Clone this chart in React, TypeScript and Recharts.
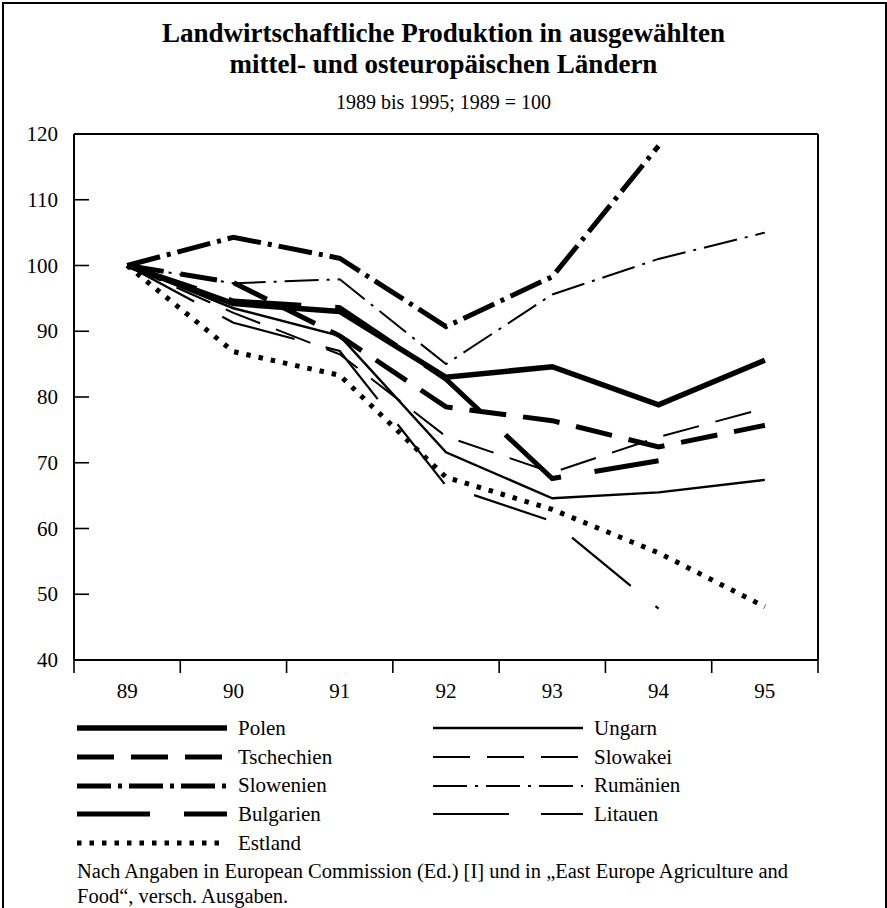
import React from "react";
import { LineChart, Line, XAxis, YAxis, ReferenceLine } from "recharts";

const YEARS = [89, 90, 91, 92, 93, 94, 95];
const POLEN = [100, 94.2, 93.0, 83.0, 84.6, 78.8, 85.6];
const UNGARN = [100, 93.5, 89.3, 71.6, 64.6, 65.5, 67.4];
const TSCHECHIEN = [100, 97.4, 89.3, 78.5, 76.4, 72.4, 75.7];
const SLOWAKEI = [100, 92.8, 86.5, 74.0, 68.5, 73.9, 78.3];
const SLOWENIEN = [100, 104.3, 101.1, 90.7, 98.3, 118.2, null];
const RUMAENIEN = [100, 97.3, 97.9, 85.0, 95.6, 101.0, 105.0];
const BULGARIEN = [100, 94.6, 93.6, 82.7, 67.6, 70.3, null];
const LITAUEN = [100, 91.3, 87.0, 66.5, 61.1, 47.8, null];
const ESTLAND = [100, 86.9, 83.3, 67.8, 62.9, 56.3, 48.1];

const Y_TICKS = [40, 50, 60, 70, 80, 90, 100, 110, 120];
const X_BOUNDS = [88.5, 89.5, 90.5, 91.5, 92.5, 93.5, 94.5, 95.5];

// legend order: left column / right column per row
const SERIES = [
  { key: "Polen", values: POLEN, width: 5.5, dash: undefined },
  { key: "Ungarn", values: UNGARN, width: 2.4, dash: undefined },
  { key: "Tschechien", values: TSCHECHIEN, width: 5, dash: "37 17" },
  { key: "Slowakei", values: SLOWAKEI, width: 2, dash: "37 17" },
  { key: "Slowenien", values: SLOWENIEN, width: 5, dash: "34 7 4 7" },
  { key: "Rumänien", values: RUMAENIEN, width: 2, dash: "34 8 3 8" },
  { key: "Bulgarien", values: BULGARIEN, width: 5, dash: "73 34" },
  { key: "Litauen", values: LITAUEN, width: 2.2, dash: "76 32" },
  { key: "Estland", values: ESTLAND, width: 5, dash: "4.5 8" },
];

const data = YEARS.map((year, i) => {
  const row: Record<string, number | null> = { year };
  SERIES.forEach((s) => {
    row[s.key] = s.values[i];
  });
  return row;
});

const FONT = '"Liberation Serif", "Times New Roman", serif';
const CHART_W = 887;
const CHART_H = 720;
const LEFT_W = 74;
const RIGHT_W = 69;
const HALF_BAND = (CHART_W - LEFT_W - RIGHT_W) / 14;
const TICK_GAP = 16;

const LeftTick = (props: any) => {
  const { x, y, payload } = props;
  const edge = x + TICK_GAP;
  return (
    <g>
      {payload.value > 40 && payload.value < 120 && (
        <line x1={edge} x2={edge + 15} y1={y} y2={y} stroke="#000" strokeWidth={1.6} />
      )}
      <text x={x} y={y} dy={7} textAnchor="end" fontSize={21} fontFamily={FONT} fill="#000">
        {payload.value}
      </text>
    </g>
  );
};

const RightTick = (props: any) => {
  const { x, y, payload } = props;
  const edge = x - 19;
  return (
    <g>
      {payload.value > 40 && payload.value < 120 && (
        <line x1={edge} x2={edge - 15} y1={y} y2={y} stroke="#000" strokeWidth={1.6} />
      )}
      <text x={x} y={y} dy={7} textAnchor="start" fontSize={21} fontFamily={FONT} fill="#000">
        {payload.value}
      </text>
    </g>
  );
};

const BottomTick = (props: any) => {
  const { x, y, payload } = props;
  const label = payload.value + 0.5;
  return (
    <g>
      <line x1={x} x2={x} y1={y} y2={y + 13} stroke="#000" strokeWidth={1.6} />
      {label < 96 && (
        <text x={x + HALF_BAND} y={y + 38} textAnchor="middle" fontSize={21} fontFamily={FONT} fill="#000">
          {label}
        </text>
      )}
    </g>
  );
};

function LegendSample({ width, dash }: { width: number; dash?: string }) {
  return (
    <svg width={150} height={10} style={{ display: "block" }}>
      <line x1={0} x2={150} y1={5} y2={5} stroke="#000" strokeWidth={width} strokeDasharray={dash} />
    </svg>
  );
}

export default function App() {
  return (
    <div
      style={{
        position: "absolute",
        left: 0,
        top: 0,
        width: 887,
        height: 908,
        background: "#fff",
        fontFamily: FONT,
        color: "#000",
        overflow: "hidden",
      }}
    >
      {/* frame */}
      <div
        style={{
          position: "absolute",
          left: 2,
          top: 2,
          width: 881,
          height: 920,
          borderLeft: "2px solid #000",
          borderTop: "2px solid #000",
          borderRight: "2px solid #000",
        }}
      />

      <div
        style={{
          position: "absolute",
          top: 18,
          left: 0,
          width: 887,
          textAlign: "center",
          fontSize: 27,
          fontWeight: "bold",
          lineHeight: "31px",
        }}
      >
        Landwirtschaftliche Produktion in ausgewählten
        <br />
        mittel- und osteuropäischen Ländern
      </div>
      <div
        style={{
          position: "absolute",
          top: 90,
          left: 0,
          width: 887,
          textAlign: "center",
          fontSize: 20,
          lineHeight: "24px",
        }}
      >
        1989 bis 1995; 1989 = 100
      </div>

      <div style={{ position: "absolute", left: 0, top: 0 }}>
        <LineChart width={CHART_W} height={CHART_H} data={data} margin={{ top: 134, right: 0, bottom: 30, left: 0 }}>
          <XAxis
            dataKey="year"
            type="number"
            domain={[88.5, 95.5]}
            ticks={X_BOUNDS}
            interval={0}
            tickSize={0}
            tickMargin={0}
            tickLine={false}
            tick={<BottomTick />}
            axisLine={{ stroke: "#000", strokeWidth: 2 }}
            height={30}
          />
          <YAxis
            yAxisId="left"
            orientation="left"
            domain={[40, 120]}
            ticks={Y_TICKS}
            interval={0}
            tickSize={0}
            tickMargin={TICK_GAP}
            tickLine={false}
            tick={<LeftTick />}
            axisLine={{ stroke: "#000", strokeWidth: 2 }}
            width={LEFT_W}
          />
          <YAxis
            yAxisId="right"
            orientation="right"
            domain={[40, 120]}
            ticks={Y_TICKS}
            interval={0}
            tickSize={0}
            tickMargin={19}
            tickLine={false}
            tick={<RightTick />}
            axisLine={{ stroke: "#000", strokeWidth: 2 }}
            width={RIGHT_W}
          />
          <ReferenceLine yAxisId="left" y={120} stroke="#000" strokeWidth={2} />
          {SERIES.map((s) => (
            <Line
              key={s.key}
              yAxisId="left"
              type="linear"
              dataKey={s.key}
              stroke="#000"
              strokeWidth={s.width}
              strokeDasharray={s.dash}
              dot={false}
              activeDot={false}
              isAnimationActive={false}
            />
          ))}
        </LineChart>
      </div>

      {/* legend */}
      <div
        style={{
          position: "absolute",
          top: 714,
          left: 77,
          display: "grid",
          gridTemplateColumns: "356px 300px",
          gridAutoRows: "28.7px",
          fontSize: 21,
        }}
      >
        {SERIES.map((s) => (
          <div key={s.key} style={{ display: "flex", alignItems: "center" }}>
            <LegendSample width={s.width} dash={s.dash} />
            <span style={{ marginLeft: 11 }}>{s.key}</span>
          </div>
        ))}
      </div>

      <div
        style={{
          position: "absolute",
          top: 859,
          left: 77,
          width: 800,
          fontSize: 20.5,
          lineHeight: "25px",
        }}
      >
        Nach Angaben in European Commission (Ed.) [I] und in „East Europe Agriculture and
        <br />
        Food“, versch. Ausgaben.
      </div>
    </div>
  );
}
